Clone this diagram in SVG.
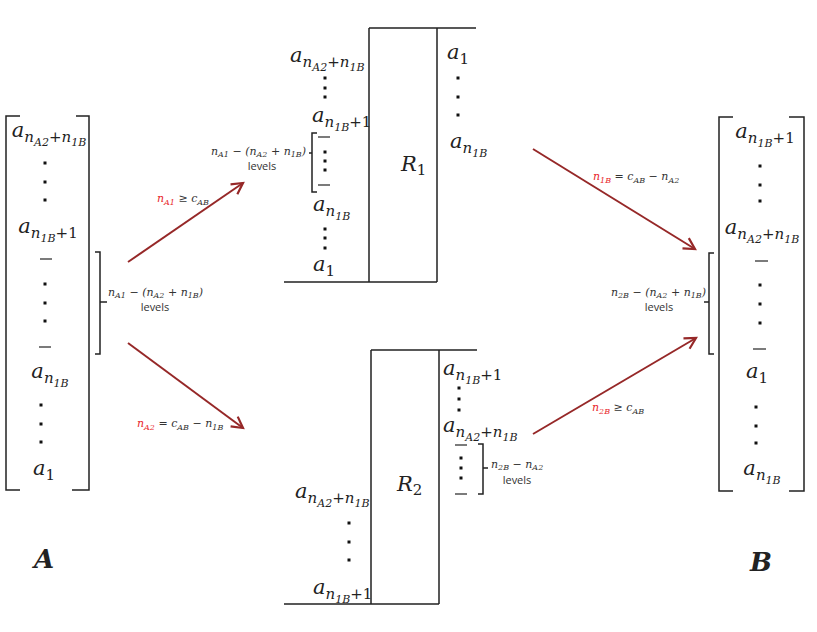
<svg xmlns="http://www.w3.org/2000/svg" width="817" height="632" viewBox="0 0 817 632">
<style>
.m{font-family:"DejaVu Serif",serif;font-style:italic;font-size:21px;fill:#222}
.s{font-size:15px}
.ss{font-size:11px}
.u{font-style:normal}
.t{font-family:"DejaVu Serif",serif;font-style:italic;font-size:11px;fill:#333}
.ts{font-size:8px}
.red{fill:#e8262b}
.lv{font-family:"Open Sans","Liberation Sans",sans-serif;font-size:11px;fill:#333;text-anchor:middle}
.ln{stroke:#222;stroke-width:1.5;fill:none}
.ds{stroke:#333;stroke-width:1.3}
.ar{stroke:#962828;stroke-width:2;fill:none;marker-end:url(#ah)}
.d{fill:#111}
.big{font-family:"DejaVu Serif",serif;font-style:italic;font-weight:bold;font-size:26px;fill:#222;text-anchor:middle}
.mid{text-anchor:middle}
</style>
<defs>
<marker id="ah" markerUnits="userSpaceOnUse" markerWidth="16" markerHeight="16" refX="13" refY="7" orient="auto" viewBox="0 0 16 14">
<path d="M2,1 L13,7 L2,13" fill="none" stroke="#962828" stroke-width="2.2"/>
</marker>
</defs>

<g id="A">
<path class="ln" d="M20,116 H6 V490 H20 M76,116 H89 V490 H72"/>
<text class="m mid" x="49" y="137">a<tspan class="s" dy="5">n</tspan><tspan class="ss" dy="4">A2</tspan><tspan class="s u" dy="-4">+</tspan><tspan class="s">n</tspan><tspan class="ss" dy="4">1B</tspan></text>
<rect class="d" x="43.5" y="161.5" width="3" height="3"/><rect class="d" x="43.5" y="180.5" width="3" height="3"/><rect class="d" x="43.5" y="198.5" width="3" height="3"/>
<text class="m mid" x="48" y="233">a<tspan class="s" dy="5">n</tspan><tspan class="ss" dy="4">1B</tspan><tspan class="s u" dy="-4">+1</tspan></text>
<line class="ds" x1="40" y1="259" x2="52" y2="259"/>
<rect class="d" x="43.5" y="282.5" width="3" height="3"/><rect class="d" x="43.5" y="301.5" width="3" height="3"/><rect class="d" x="43.5" y="319.5" width="3" height="3"/>
<line class="ds" x1="39" y1="347" x2="51" y2="347"/>
<text class="m mid" x="50" y="378">a<tspan class="s" dy="5">n</tspan><tspan class="ss" dy="4">1B</tspan></text>
<rect class="d" x="39.5" y="403.5" width="3" height="3"/><rect class="d" x="39.5" y="422.5" width="3" height="3"/><rect class="d" x="39.5" y="440.5" width="3" height="3"/>
<text class="m mid" x="44" y="475">a<tspan class="s u" dy="5">1</tspan></text>
<path class="ln" d="M95,252 H100 V354 H95 M100,302 H107"/>
<text class="t" x="108" y="296">n<tspan class="ts" dy="2">A1</tspan><tspan dy="-2"> − (n</tspan><tspan class="ts" dy="2">A2</tspan><tspan dy="-2"> + n</tspan><tspan class="ts" dy="2">1B</tspan><tspan dy="-2">)</tspan></text>
<text class="lv" x="155" y="311">levels</text>
<text class="big" x="44" y="568">A</text>
</g>

<g id="R1">
<path class="ln" d="M369,28 H476 M437,28 V282 M369,28 V282 M284,282 H437"/>
<text class="m" x="401" y="171">R<tspan class="s u" dy="4">1</tspan></text>
<text class="m" x="290" y="62">a<tspan class="s" dy="5">n</tspan><tspan class="ss" dy="4">A2</tspan><tspan class="s u" dy="-4">+</tspan><tspan class="s">n</tspan><tspan class="ss" dy="4">1B</tspan></text>
<rect class="d" x="323.5" y="76.5" width="3" height="3"/><rect class="d" x="323.5" y="86.5" width="3" height="3"/><rect class="d" x="323.5" y="95.5" width="3" height="3"/>
<text class="m" x="312" y="122">a<tspan class="s" dy="5">n</tspan><tspan class="ss" dy="4">1B</tspan><tspan class="s u" dy="-4">+1</tspan></text>
<path class="ln" d="M317,133 H312 V192 H317 M312,153 H309"/>
<line class="ds" x1="318" y1="137" x2="330" y2="137"/>
<rect class="d" x="323.5" y="150.5" width="3" height="3"/><rect class="d" x="323.5" y="159.5" width="3" height="3"/><rect class="d" x="323.5" y="168.5" width="3" height="3"/>
<line class="ds" x1="318" y1="185" x2="330" y2="185"/>
<text class="t" x="211" y="155">n<tspan class="ts" dy="2">A1</tspan><tspan dy="-2"> − (n</tspan><tspan class="ts" dy="2">A2</tspan><tspan dy="-2"> + n</tspan><tspan class="ts" dy="2">1B</tspan><tspan dy="-2">)</tspan></text>
<text class="lv" x="262" y="170">levels</text>
<text class="m" x="313" y="211">a<tspan class="s" dy="5">n</tspan><tspan class="ss" dy="4">1B</tspan></text>
<rect class="d" x="323.5" y="227.5" width="3" height="3"/><rect class="d" x="323.5" y="236.5" width="3" height="3"/><rect class="d" x="323.5" y="246.5" width="3" height="3"/>
<text class="m" x="313" y="271">a<tspan class="s u" dy="5">1</tspan></text>
<text class="m" x="447" y="59">a<tspan class="s u" dy="5">1</tspan></text>
<rect class="d" x="456.5" y="76.5" width="3" height="3"/><rect class="d" x="456.5" y="95.5" width="3" height="3"/><rect class="d" x="456.5" y="113.5" width="3" height="3"/>
<text class="m" x="450" y="148">a<tspan class="s" dy="5">n</tspan><tspan class="ss" dy="4">1B</tspan></text>
</g>

<g id="R2">
<path class="ln" d="M371,350 H477 M371,350 V604 M439,350 V604 M284,604 H439"/>
<text class="m" x="397" y="491">R<tspan class="s u" dy="4">2</tspan></text>
<text class="m" x="443" y="375">a<tspan class="s" dy="5">n</tspan><tspan class="ss" dy="4">1B</tspan><tspan class="s u" dy="-4">+1</tspan></text>
<rect class="d" x="457.5" y="386.5" width="3" height="3"/><rect class="d" x="457.5" y="397.5" width="3" height="3"/><rect class="d" x="457.5" y="408.5" width="3" height="3"/>
<text class="m" x="443" y="432">a<tspan class="s" dy="5">n</tspan><tspan class="ss" dy="4">A2</tspan><tspan class="s u" dy="-4">+</tspan><tspan class="s">n</tspan><tspan class="ss" dy="4">1B</tspan></text>
<line class="ds" x1="455" y1="445" x2="467" y2="445"/>
<rect class="d" x="459.5" y="456.5" width="3" height="3"/><rect class="d" x="459.5" y="466.5" width="3" height="3"/><rect class="d" x="459.5" y="476.5" width="3" height="3"/>
<line class="ds" x1="455" y1="494" x2="467" y2="494"/>
<path class="ln" d="M478,444 H483 V494 H478 M483,468 H488"/>
<text class="t" x="491" y="468">n<tspan class="ts" dy="2">2B</tspan><tspan dy="-2"> − n</tspan><tspan class="ts" dy="2">A2</tspan></text>
<text class="lv" x="517" y="484">levels</text>
<text class="m" x="295" y="498">a<tspan class="s" dy="5">n</tspan><tspan class="ss" dy="4">A2</tspan><tspan class="s u" dy="-4">+</tspan><tspan class="s">n</tspan><tspan class="ss" dy="4">1B</tspan></text>
<rect class="d" x="347.5" y="521.5" width="3" height="3"/><rect class="d" x="347.5" y="540.5" width="3" height="3"/><rect class="d" x="347.5" y="558.5" width="3" height="3"/>
<text class="m" x="313" y="594">a<tspan class="s" dy="5">n</tspan><tspan class="ss" dy="4">1B</tspan><tspan class="s u" dy="-4">+1</tspan></text>
</g>

<g id="B">
<path class="ln" d="M733,117 H719 V491 H733 M789,117 H804 V491 H789"/>
<text class="m mid" x="765" y="138">a<tspan class="s" dy="5">n</tspan><tspan class="ss" dy="4">1B</tspan><tspan class="s u" dy="-4">+1</tspan></text>
<rect class="d" x="758.5" y="164.5" width="3" height="3"/><rect class="d" x="758.5" y="183.5" width="3" height="3"/><rect class="d" x="758.5" y="199.5" width="3" height="3"/>
<text class="m mid" x="762" y="234">a<tspan class="s" dy="5">n</tspan><tspan class="ss" dy="4">A2</tspan><tspan class="s u" dy="-4">+</tspan><tspan class="s">n</tspan><tspan class="ss" dy="4">1B</tspan></text>
<line class="ds" x1="755" y1="261" x2="768" y2="261"/>
<rect class="d" x="758.5" y="283.5" width="3" height="3"/><rect class="d" x="758.5" y="302.5" width="3" height="3"/><rect class="d" x="758.5" y="321.5" width="3" height="3"/>
<line class="ds" x1="753" y1="349" x2="766" y2="349"/>
<text class="m mid" x="757" y="378">a<tspan class="s u" dy="5">1</tspan></text>
<rect class="d" x="754.5" y="405.5" width="3" height="3"/><rect class="d" x="754.5" y="424.5" width="3" height="3"/><rect class="d" x="754.5" y="441.5" width="3" height="3"/>
<text class="m mid" x="762" y="475">a<tspan class="s" dy="5">n</tspan><tspan class="ss" dy="4">1B</tspan></text>
<path class="ln" d="M714,253 H709 V354 H714 M709,302 H704"/>
<text class="t" x="706" y="296" text-anchor="end">n<tspan class="ts" dy="2">2B</tspan><tspan dy="-2"> − (n</tspan><tspan class="ts" dy="2">A2</tspan><tspan dy="-2"> + n</tspan><tspan class="ts" dy="2">1B</tspan><tspan dy="-2">)</tspan></text>
<text class="lv" x="659" y="311">levels</text>
<text class="big" x="761" y="571">B</text>
</g>

<g id="connectors">
<line class="ar" x1="128" y1="262" x2="243" y2="183"/>
<line class="ar" x1="128" y1="343" x2="243" y2="428"/>
<line class="ar" x1="533" y1="149" x2="695" y2="249"/>
<line class="ar" x1="533" y1="434" x2="696" y2="338"/>
<text class="t" x="157" y="202"><tspan class="red">n</tspan><tspan class="ts red" dy="3">A1</tspan><tspan dy="-3"> ≥ c</tspan><tspan class="ts" dy="3">AB</tspan></text>
<text class="t" x="137" y="427"><tspan class="red">n</tspan><tspan class="ts red" dy="3">A2</tspan><tspan dy="-3"> = c</tspan><tspan class="ts" dy="3">AB</tspan><tspan dy="-3"> − n</tspan><tspan class="ts" dy="3">1B</tspan></text>
<text class="t" x="593" y="180"><tspan class="red">n</tspan><tspan class="ts red" dy="3">1B</tspan><tspan dy="-3"> = c</tspan><tspan class="ts" dy="3">AB</tspan><tspan dy="-3"> − n</tspan><tspan class="ts" dy="3">A2</tspan></text>
<text class="t" x="592" y="411"><tspan class="red">n</tspan><tspan class="ts red" dy="3">2B</tspan><tspan dy="-3"> ≥ c</tspan><tspan class="ts" dy="3">AB</tspan></text>
</g>
</svg>
